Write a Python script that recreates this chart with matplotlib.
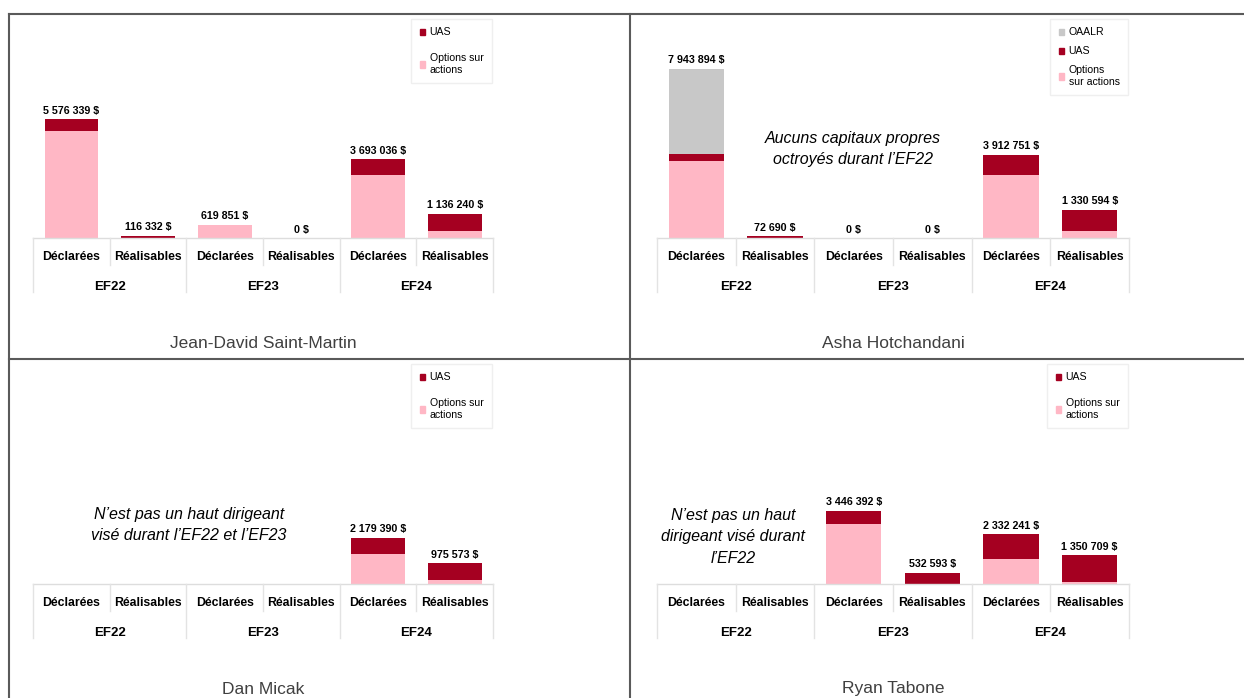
import numpy as np
import matplotlib.pyplot as plt
from matplotlib.patches import Patch
from matplotlib.lines import Line2D
from matplotlib import transforms

W, H = 1244, 698
FONT = ['Liberation Sans', 'DejaVu Sans']

RED = '#A50021'
PINK = '#FFB7C5'
GRAY = '#C8C8C8'

categories = ['Déclarées', 'Réalisables'] * 3
years = ['EF22', 'EF23', 'EF24']

# Jean-David Saint-Martin
jd_options = [5006339, 0, 619851, 0, 2943036, 336240]
jd_uas = [570000, 116332, 0, 0, 750000, 800000]
jd_totals = [5576339, 116332, 619851, 0, 3693036, 1136240]

# Asha Hotchandani
ah_options = [3603894, 0, 0, 0, 2972751, 330594]
ah_uas = [340000, 72690, 0, 0, 940000, 1000000]
ah_oaalr = [4000000, 0, 0, 0, 0, 0]
ah_totals = [7943894, 72690, 0, 0, 3912751, 1330594]

# Dan Micak
dm_options = [0, 0, 0, 0, 1399390, 165573]
dm_uas = [0, 0, 0, 0, 780000, 810000]
dm_totals = [None, None, None, None, 2179390, 975573]

# Ryan Tabone
rt_options = [0, 0, 2836392, 0, 1162241, 100709]
rt_uas = [0, 0, 610000, 532593, 1170000, 1250000]
rt_totals = [None, None, 3446392, 532593, 2332241, 1350709]

PX_PER_M = 21.3

plt.rcParams['font.family'] = FONT
fig = plt.figure(figsize=(W / 100, H / 100), dpi=100)


def fx(x):
    return x / W


def fy(y):
    return 1 - y / H


def fmt(v):
    return f"{v:,}".replace(',', ' ') + ' $'


def panel(left, right, top, base, options, uas, totals, name, legend_labels,
          oaalr=None, note=None, note_xy=None, leg_spacing=1.5):
    ax = fig.add_axes([fx(left), fy(base), (right - left) / W, (base - top) / H])
    ax.set_xlim(-0.5, 5.5)
    ax.set_ylim(0, (base - top) / PX_PER_M * 1e6)
    ax.axis('off')
    x = np.arange(6)
    options = np.array(options)
    uas = np.array(uas)
    ax.bar(x, options, width=0.7, color=PINK)
    ax.bar(x, uas, width=0.7, bottom=options, color=RED)
    handles = [Patch(color=RED), Patch(color=PINK)]
    if oaalr is not None:
        ax.bar(x, oaalr, width=0.7, bottom=options + uas, color=GRAY)
        handles = [Patch(color=GRAY)] + handles
    for xi, t in zip(x, totals):
        if t is None:
            continue
        ax.annotate(fmt(t), (xi, t), xytext=(0, 2.5), textcoords='offset points',
                    ha='center', va='bottom', fontsize=7.7, fontweight='bold')

    tr = transforms.blended_transform_factory(ax.transData, fig.transFigure)
    ax.plot([-0.5, 5.5], [fy(base)] * 2, color='#DDDDDD', lw=1, transform=tr, clip_on=False)
    for b in [-0.5, 1.5, 3.5, 5.5]:
        ax.plot([b, b], [fy(base), fy(base + 54)], color='#E3E3E3', lw=1,
                transform=tr, clip_on=False)
    for b in [0.5, 2.5, 4.5]:
        ax.plot([b, b], [fy(base), fy(base + 27)], color='#E3E3E3', lw=1,
                transform=tr, clip_on=False)
    for xi, c in zip(x, categories):
        ax.text(xi, fy(base + 19), c, transform=tr, ha='center', va='center',
                fontsize=8.8, fontweight='bold')
    for i, yr in enumerate(years):
        ax.text(2 * i + 0.5, fy(base + 49), yr, transform=tr, ha='center', va='center',
                fontsize=9.5, fontweight='bold')

    ax.text(2.5, fy(base + 105), name, transform=tr, ha='center', va='center',
            fontsize=12.5, color='#404040')

    if note is not None:
        fig.text(fx(note_xy[0]), fy(note_xy[1]), note, ha='center', va='center',
                 fontsize=11.5, style='italic', linespacing=1.55)

    leg = ax.legend(handles, legend_labels, loc='upper right',
                    bbox_to_anchor=(fx(right - 1), fy(top + 4)),
                    bbox_transform=fig.transFigure, borderaxespad=0,
                    frameon=True, fancybox=False,
                    edgecolor='#EBEBEB', handlelength=0.55, handleheight=0.55,
                    handletextpad=0.4, labelspacing=leg_spacing, borderpad=0.8,
                    prop={'size': 7.6})
    leg.get_frame().set_linewidth(1)
    return ax


panel(33, 493, 15, 238, jd_options, jd_uas, jd_totals, 'Jean-David Saint-Martin',
      ['UAS', 'Options sur\nactions'])
panel(657, 1129, 15, 238, ah_options, ah_uas, ah_totals, 'Asha Hotchandani',
      ['OAALR', 'UAS', 'Options\nsur actions'], oaalr=ah_oaalr,
      note='Aucuns capitaux propres\noctroyés durant l’EF22', note_xy=(853, 149),
      leg_spacing=0.85)
panel(33, 493, 360, 584, dm_options, dm_uas, dm_totals, 'Dan Micak',
      ['UAS', 'Options sur\nactions'],
      note='N’est pas un haut dirigeant\nvisé durant l’EF22 et l’EF23', note_xy=(189, 525))
panel(657, 1129, 360, 584, rt_options, rt_uas, rt_totals, 'Ryan Tabone',
      ['UAS', 'Options sur\nactions'],
      note='N’est pas un haut\ndirigeant visé durant\nl’EF22', note_xy=(733, 537))

# panel borders
border = dict(color='#5A5A5A', lw=1.5, transform=fig.transFigure)
fig.add_artist(Line2D([fx(9), 1], [fy(14), fy(14)], **border))
fig.add_artist(Line2D([fx(9), fx(9)], [fy(14), 0], **border))
fig.add_artist(Line2D([fx(630), fx(630)], [fy(14), 0], **border))
fig.add_artist(Line2D([fx(9), 1], [fy(359), fy(359)], **border))

fig.savefig('out.png', dpi=100)
